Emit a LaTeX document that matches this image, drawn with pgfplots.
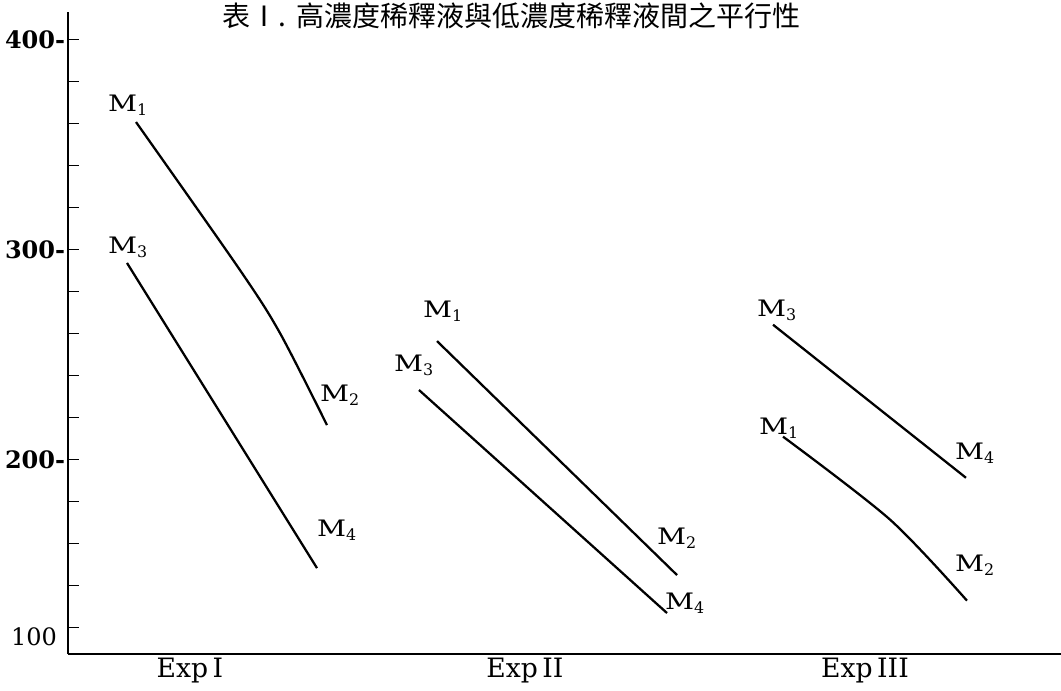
\documentclass[border=0pt]{standalone}
\usepackage{fontspec}
\setmainfont{DejaVu Serif}
\newfontfamily\cjk{Noto Sans CJK TC}
\usepackage{graphicx}
\usepackage{pgfplots}
\pgfplotsset{compat=1.18}
\newcommand{\lab}[1]{\scalebox{1.25}[1]{M}\textsubscript{#1}}
\begin{document}
\begin{tikzpicture}
\useasboundingbox (-51pt,-27pt) rectangle (744.75pt,490.5pt);
\begin{axis}[
  at={(0,0)}, anchor=south west,
  scale only axis, width=744.75pt, height=481.5pt,
  xmin=0.68, xmax=10.61, ymin=107.3, ymax=413,
  axis x line*=bottom, axis y line*=left,
  x axis line style={line width=1.5pt},
  y axis line style={line width=2pt},
  clip=false,
  tick align=inside,
  major tick length=8.5pt, minor tick length=8.5pt,
  ytick={200,300,400}, yticklabels={200-,300-,400-},
  minor ytick={120,140,160,180,220,240,260,280,320,340,360,380},
  ytick style={line width=1.1pt, black},
  yticklabel style={font=\bfseries\fontsize{18}{20}\selectfont, inner sep=2pt},
  extra y ticks={115.5}, extra y tick labels={100\phantom{-}},
  extra y tick style={major tick length=0pt, yticklabel style={font=\mdseries\fontsize{18}{20}\selectfont}},
  xtick={1.90,5.25,8.65},
  xticklabels={Exp\,I, Exp\,II, Exp\,III},
  xtick style={draw=none},
  xticklabel style={font=\fontsize{20}{22}\selectfont, inner sep=3pt},
]
% Exp I
\addplot[black, line width=1.7pt, smooth] coordinates {(1.36,360.6) (2.40,290.1) (2.80,260.1) (3.27,216.3)};
\addplot[black, line width=1.7pt] coordinates {(1.27,293.5) (3.17,148.2)};
% Exp II
\addplot[black, line width=1.7pt] coordinates {(4.37,256.3) (6.77,144.9)};
\addplot[black, line width=1.7pt] coordinates {(4.19,233.0) (6.67,126.8)};
% Exp III
\addplot[black, line width=1.7pt] coordinates {(7.73,264.1) (9.66,191.2)};
\addplot[black, line width=1.7pt, smooth] coordinates {(7.83,210.8) (8.90,171.3) (9.67,132.7)};

\begin{scope}[every node/.style={font=\fontsize{17}{20}\selectfont}]
\node at (axis cs:1.28,368.7) {\lab{1}};
\node at (axis cs:1.28,301.1) {\lab{3}};
\node at (axis cs:3.40,230.6) {\lab{2}};
\node at (axis cs:3.37,166.3) {\lab{4}};
\node at (axis cs:4.43,270.6) {\lab{1}};
\node at (axis cs:4.14,244.9) {\lab{3}};
\node at (axis cs:6.77,162.5) {\lab{2}};
\node at (axis cs:6.85,131.5) {\lab{4}};
\node at (axis cs:7.77,271.1) {\lab{3}};
\node at (axis cs:7.79,214.9) {\lab{1}};
\node at (axis cs:9.75,203.0) {\lab{4}};
\node at (axis cs:9.75,149.7) {\lab{2}};
\end{scope}
\node[font=\cjk\fontsize{21}{24}\selectfont, anchor=west, inner sep=0pt] at (axis cs:2.22,411.2) {表Ⅰ.\hspace{8pt}高濃度稀釋液與低濃度稀釋液間之平行性};
\end{axis}
\end{tikzpicture}
\end{document}
